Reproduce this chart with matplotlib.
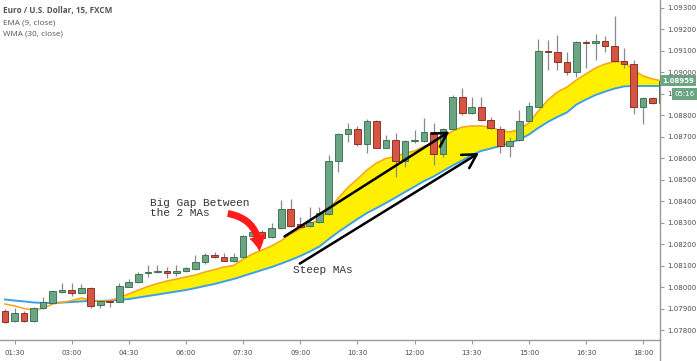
import numpy as np
import matplotlib
matplotlib.use("Agg")
import matplotlib.pyplot as plt
import matplotlib.transforms as mtransforms
from matplotlib.patches import FancyArrowPatch
from matplotlib.lines import Line2D

# EUR/USD 15 min candles, first candle 01:15
opens = [1.07888, 1.07842, 1.07881, 1.07843, 1.07901, 1.07927, 1.07978, 1.07985, 1.07974, 1.07995,
         1.07915, 1.07935, 1.07932, 1.08001, 1.08022, 1.08064, 1.08068, 1.08075, 1.08064, 1.08076,
         1.08082, 1.08114, 1.08147, 1.08138, 1.08122, 1.08141, 1.08237, 1.08254, 1.08231, 1.08273,
         1.08363, 1.08293, 1.08285, 1.08304, 1.08338, 1.08586, 1.08712, 1.08733, 1.08664, 1.08774,
         1.08648, 1.08684, 1.08586, 1.08678, 1.08681, 1.08722, 1.08617, 1.08733, 1.08882, 1.08811,
         1.08836, 1.08777, 1.08735, 1.08656, 1.08684, 1.08774, 1.08839, 1.09098, 1.09095, 1.09045,
         1.09001, 1.09138, 1.09133, 1.09144, 1.09122, 1.09053, 1.09037, 1.08836, 1.08878, 1.08855]
highs = [1.07896, 1.07901, 1.07890, 1.07908, 1.07955, 1.07983, 1.08017, 1.08017, 1.08013, 1.07999,
         1.07940, 1.07940, 1.08017, 1.08036, 1.08071, 1.08102, 1.08102, 1.08095, 1.08102, 1.08095,
         1.08149, 1.08160, 1.08164, 1.08157, 1.08157, 1.08242, 1.08299, 1.08265, 1.08299, 1.08405,
         1.08408, 1.08327, 1.08374, 1.08371, 1.08614, 1.08715, 1.08764, 1.08749, 1.08780, 1.08777,
         1.08707, 1.08715, 1.08684, 1.08730, 1.08785, 1.08761, 1.08738, 1.08893, 1.08924, 1.08885,
         1.08885, 1.08792, 1.08749, 1.08699, 1.08823, 1.08862, 1.09152, 1.09149, 1.09172, 1.09095,
         1.09144, 1.09149, 1.09175, 1.09169, 1.09260, 1.09110, 1.09056, 1.08885, 1.08885, 1.08963]
lows = [1.07833, 1.07839, 1.07839, 1.07839, 1.07898, 1.07924, 1.07971, 1.07960, 1.07971, 1.07901,
        1.07901, 1.07906, 1.07929, 1.07999, 1.08017, 1.08045, 1.08064, 1.08041, 1.08051, 1.08071,
        1.08079, 1.08107, 1.08133, 1.08121, 1.08118, 1.08133, 1.08234, 1.08203, 1.08228, 1.08270,
        1.08281, 1.08279, 1.08281, 1.08299, 1.08335, 1.08536, 1.08673, 1.08657, 1.08625, 1.08645,
        1.08645, 1.08513, 1.08560, 1.08668, 1.08676, 1.08568, 1.08603, 1.08730, 1.08800, 1.08805,
        1.08774, 1.08733, 1.08622, 1.08603, 1.08679, 1.08771, 1.08837, 1.09009, 1.09009, 1.08986,
        1.08978, 1.09017, 1.09056, 1.09095, 1.09048, 1.09017, 1.08803, 1.08757, 1.08850, 1.08852]
closes = [1.07839, 1.07878, 1.07843, 1.07904, 1.07929, 1.07981, 1.07986, 1.07974, 1.07997, 1.07913,
          1.07935, 1.07930, 1.08005, 1.08022, 1.08061, 1.08071, 1.08075, 1.08064, 1.08076, 1.08087,
          1.08117, 1.08149, 1.08141, 1.08122, 1.08141, 1.08237, 1.08254, 1.08229, 1.08273, 1.08363,
          1.08285, 1.08281, 1.08304, 1.08343, 1.08586, 1.08712, 1.08733, 1.08664, 1.08774, 1.08648,
          1.08684, 1.08586, 1.08679, 1.08684, 1.08722, 1.08617, 1.08733, 1.08882, 1.08811, 1.08836,
          1.08777, 1.08738, 1.08656, 1.08681, 1.08774, 1.08842, 1.09098, 1.09092, 1.09045, 1.09001,
          1.09138, 1.09133, 1.09144, 1.09122, 1.09051, 1.09037, 1.08836, 1.08878, 1.08855, 1.08959]

ema9 = [1.07921, 1.07912, 1.07900, 1.07893, 1.07901, 1.07921, 1.07928, 1.07937, 1.07949, 1.07940,
        1.07935, 1.07936, 1.07951, 1.07968, 1.07986, 1.08002, 1.08016, 1.08028, 1.08037, 1.08047,
        1.08056, 1.08070, 1.08081, 1.08093, 1.08100, 1.08130, 1.08154, 1.08172, 1.08191, 1.08216,
        1.08247, 1.08270, 1.08291, 1.08316, 1.08358, 1.08414, 1.08463, 1.08502, 1.08544, 1.08577,
        1.08598, 1.08607, 1.08623, 1.08633, 1.08654, 1.08668, 1.08698, 1.08726, 1.08744, 1.08749,
        1.08749, 1.08744, 1.08728, 1.08721, 1.08733, 1.08763, 1.08819, 1.08870, 1.08907, 1.08930,
        1.08963, 1.08991, 1.09019, 1.09037, 1.09049, 1.09047, 1.09009, 1.08981, 1.08968, 1.08958]
wma30 = [1.07942, 1.07937, 1.07933, 1.07928, 1.07926, 1.07926, 1.07928, 1.07930, 1.07933, 1.07935,
         1.07935, 1.07937, 1.07940, 1.07944, 1.07951, 1.07958, 1.07965, 1.07972, 1.07979, 1.07986,
         1.07995, 1.08005, 1.08014, 1.08026, 1.08037, 1.08051, 1.08065, 1.08079, 1.08093, 1.08109,
         1.08126, 1.08144, 1.08165, 1.08188, 1.08223, 1.08256, 1.08286, 1.08316, 1.08344, 1.08367,
         1.08391, 1.08416, 1.08442, 1.08467, 1.08493, 1.08514, 1.08540, 1.08565, 1.08588, 1.08614,
         1.08633, 1.08644, 1.08656, 1.08670, 1.08686, 1.08709, 1.08740, 1.08768, 1.08791, 1.08812,
         1.08849, 1.08872, 1.08893, 1.08909, 1.08923, 1.08933, 1.08935, 1.08935, 1.08935, 1.08935]

time_labels = ["01:30", "03:00", "04:30", "06:00", "07:30", "09:00",
               "10:30", "12:00", "13:30", "15:00", "16:30", "18:00"]
time_ticks = [1, 7, 13, 19, 25, 31, 37, 43, 49, 55, 61, 67]   # candle index
price_ticks = [1.078, 1.079, 1.080, 1.081, 1.082, 1.083, 1.084, 1.085,
               1.086, 1.087, 1.088, 1.089, 1.090, 1.091, 1.092, 1.093]
last_price = 1.08959
countdown = "05:16"

GREEN = "#6ba583"
GREEN_EDGE = "#2f6a48"
RED = "#d75442"
RED_EDGE = "#7d2418"
WICK = "#8a8a8a"
YELLOW = "#fff000"
ORANGE = "#f7a21b"
BLUE = "#3aa0ea"
AXIS = "#9a9a9a"
TXT = "#4a4a4a"

fig = plt.figure(figsize=(6.97, 3.61), dpi=100)
W, H = 697, 361
ax = fig.add_axes([0, 21 / H, 660 / W, 340 / H])

x = np.arange(len(opens))
o, h, l, c = (np.array(v) for v in (opens, highs, lows, closes))
ema = np.array(ema9)
wma = np.array(wma30)

# moving averages with the gap filled
ax.fill_between(x, ema, wma, where=ema >= wma, interpolate=True,
                color=YELLOW, lw=0, zorder=1)
ax.plot(x, wma, color=BLUE, lw=1.4, zorder=2)
ax.plot(x, ema, color=ORANGE, lw=1.1, zorder=2)

# candles
up = c >= o
ax.vlines(x, l, h, color=WICK, lw=0.9, zorder=3)
bot = np.minimum(o, c)
hgt = np.maximum(np.abs(c - o), 0.00004)
ax.bar(x[up], hgt[up], bottom=bot[up], width=0.7, color=GREEN,
       edgecolor=GREEN_EDGE, lw=0.6, zorder=4)
ax.bar(x[~up], hgt[~up], bottom=bot[~up], width=0.7, color=RED,
       edgecolor=RED_EDGE, lw=0.6, zorder=4)

ax.set_xlim(-0.525, 68.77)
ax.set_ylim(1.077535, 1.093349)

# axes styling
for s in ("top", "left"):
    ax.spines[s].set_visible(False)
for s in ("right", "bottom"):
    ax.spines[s].set_color(AXIS)
    ax.spines[s].set_linewidth(1.0)
ax.yaxis.tick_right()
ax.set_yticks(price_ticks)
# the 1.08900 label sits under the countdown box, only its "1" shows
ax.set_yticklabels(["1" if abs(p - 1.089) < 1e-9 else f"{p:.5f}" for p in price_ticks])
ax.set_xticks(time_ticks)
ax.set_xticklabels(time_labels)
ax.tick_params(axis="y", length=3, width=0.8, color=AXIS, pad=2,
               labelsize=5, labelcolor=TXT)
ax.tick_params(axis="x", length=3, width=0.8, color=AXIS, pad=4,
               labelsize=5, labelcolor=TXT)
for t in ax.get_xticklabels() + ax.get_yticklabels():
    t.set_family("DejaVu Sans")

fig.add_artist(Line2D([660 / W, 660 / W], [0, 21 / H], color=AXIS, lw=1.0))

# last price / countdown boxes on the price scale
blend = mtransforms.blended_transform_factory(ax.transAxes, ax.transData)
ax.text(1.003, last_price, "1.08959", transform=blend, ha="left", va="center",
        fontsize=5, color="white", fontweight="bold", clip_on=False, zorder=10,
        bbox=dict(boxstyle="square,pad=0.35", fc=GREEN, ec="none"))
ax.text(1.022, 1.08898, countdown, transform=blend, ha="left", va="center",
        fontsize=5, color="white", clip_on=False, zorder=10,
        bbox=dict(boxstyle="square,pad=0.4", fc=GREEN, ec="none"))

# legend text
leg = dict(fontsize=5.9, color="#555555", family="Open Sans", va="center")
fig.text(3 / W, 1 - 10 / H, "Euro / U.S. Dollar, 15, FXCM", fontweight="bold", **leg)
fig.text(3 / W, 1 - 23 / H, "EMA (9, close)", **leg)
fig.text(3 / W, 1 - 34 / H, "WMA (30, close)", **leg)

# annotations
mono = dict(family="Liberation Mono", fontsize=8, color="#333333")
ax.text(15.2, 1.08393, "Big Gap Between", va="center", ha="left", **mono)
ax.text(15.2, 1.08346, "the 2 MAs", va="center", ha="left", **mono)
ax.text(30.2, 1.08079, "Steep MAs", va="center", ha="left", **mono)

ax.add_patch(FancyArrowPatch((23.1, 1.08344), (26.7, 1.08153),
                             connectionstyle="arc3,rad=-0.45",
                             arrowstyle="simple,head_length=1.1,head_width=1.2,tail_width=0.5",
                             mutation_scale=10, color="#ff1a1a", lw=0, zorder=6))
ax.add_patch(FancyArrowPatch((29.1, 1.08228), (46.9, 1.08730),
                             arrowstyle="->,head_length=0.7,head_width=0.4",
                             mutation_scale=14, color="black", lw=1.8, zorder=6))
ax.add_patch(FancyArrowPatch((30.7, 1.08102), (50.0, 1.08630),
                             arrowstyle="->,head_length=0.7,head_width=0.4",
                             mutation_scale=14, color="black", lw=1.8, zorder=6))

fig.savefig("out.png", dpi=100)
